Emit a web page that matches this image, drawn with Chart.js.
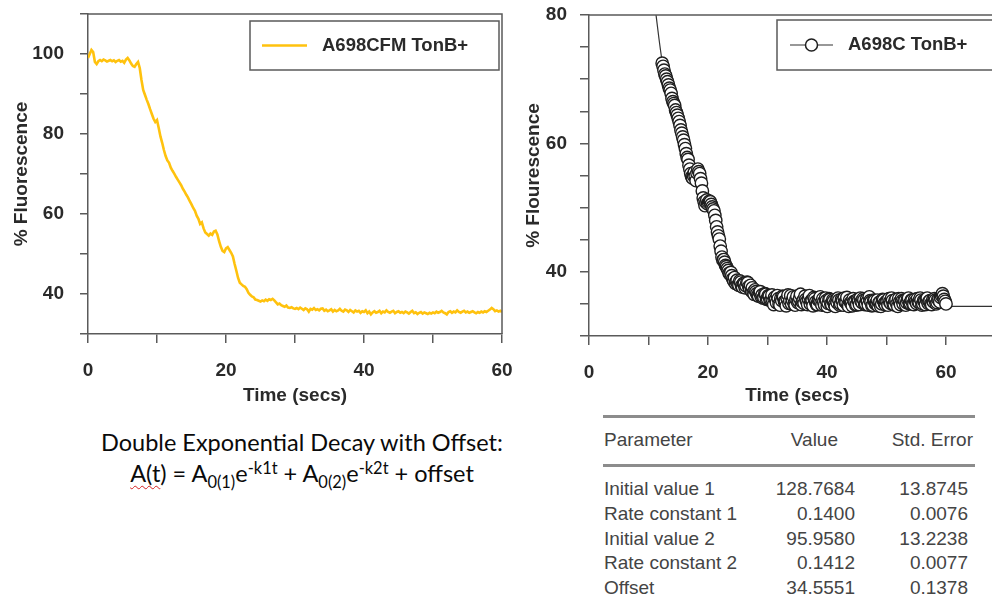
<!DOCTYPE html>
<html>
<head>
<meta charset="utf-8">
<script src="https://cdn.jsdelivr.net/npm/chart.js@4.4.0/dist/chart.umd.min.js"></script>
<style>
  html, body { margin: 0; padding: 0; background: #fff; }
  body { width: 992px; height: 607px; overflow: hidden; position: relative; font-family: 'Liberation Sans', Arial, sans-serif; }
  #left-wrap { position: absolute; left: 0; top: 0; }
  #right-wrap { position: absolute; left: 520px; top: 0; }
  .formula { position: absolute; left: 0; width: 604px; text-align: center; font-family: Lato, 'Open Sans', sans-serif; font-size: 23.5px; line-height: 28px; color: #0a0a0a; white-space: nowrap; }
  .formula .lo { font-size: 0.7em; position: relative; top: 0.35em; }
  .formula .hi { font-size: 0.7em; position: relative; top: -0.5em; }
  .squiggle { text-decoration: underline wavy #d42020; text-decoration-thickness: 1px; text-underline-offset: 3px; }
  .rule { position: absolute; left: 603px; width: 372px; height: 3px; background: #8c8c8c; }
  .cell { position: absolute; font-size: 19px; line-height: 22px; color: #444; white-space: nowrap; }
</style>
</head>
<body>
<div id="left-wrap"><canvas id="left-chart" width="530" height="420"></canvas></div>
<div id="right-wrap"><canvas id="right-chart" width="500" height="412"></canvas></div>

<div class="formula" style="top:428px;">Double Exponential Decay with Offset:</div>
<div class="formula" style="top:459px;"><span class="squiggle">A(t</span>) = A<span class="lo">0(1)</span>e<span class="hi">-k1t</span> + A<span class="lo">0(2)</span>e<span class="hi">-k2t</span> + offset</div>

<div id="fit-table"></div>

<script>
// Left panel: yellow trace, one reading every 0.25 s from t = 0
const traceStart = 0;
const traceStep = 0.25;
const yellowTrace = [
  99, 100, 101, 100.5, 98, 97.5, 98.2, 98.5, 98.2, 98.6, 98.4, 98.1, 98.3, 98.5, 98.2, 98.4, 98.0, 98.3, 98.5, 98.1,
  98.3, 97.8, 98.6, 99.0, 98.4, 97.6, 97.0, 96.8, 97.5, 98.0, 96.5, 93.5, 91.0, 89.8, 88.6, 87.5, 86.2, 85.0, 83.8, 83.0,
  83.5, 81.5, 79.4, 77.8, 76.0, 74.5, 73.4, 72.8, 71.6, 70.8, 70.1, 69.3, 68.6, 67.9, 67.2, 66.3, 65.6, 64.8, 64.1, 63.2,
  62.4, 61.5, 60.8, 59.6, 58.8, 57.5, 57.9, 56.4, 55.4, 55.0, 54.6, 55.1, 54.8, 55.6, 55.8, 54.9, 53.2, 51.8, 50.8, 50.5,
  51.4, 51.7, 51.0, 50.3, 49.4, 47.5, 45.8, 44.0, 42.8, 42.4, 42.0, 41.8, 41.2, 40.3, 39.8, 39.4, 39.2, 38.6, 38.5, 38.3,
  38.1, 38.4, 38.2, 38.6, 38.3, 38.7, 38.5, 38.8, 38.4, 37.9, 37.4, 37.6, 37.2, 37.0, 36.8, 37.1, 36.6, 36.5, 36.7, 36.4,
  36.3, 36.5, 36.2, 36.6, 36.3, 36.0, 36.4, 36.2, 35.6, 36.3, 36.1, 36.5, 36.0, 36.2, 35.9, 36.3, 36.4, 35.8, 36.1, 35.7,
  35.9, 36.2, 35.6, 36.0, 35.7, 35.9, 36.3, 35.8, 35.6, 36.1, 35.9, 35.5, 36.0, 35.7, 35.4, 35.9, 35.6, 35.8, 35.3, 35.7,
  35.5, 35.9, 35.2, 35.6, 34.9, 35.4, 35.7, 35.3, 35.5, 35.8, 35.2, 35.6, 35.4, 35.9, 35.5, 35.3, 35.6, 35.8, 35.2, 35.5,
  35.7, 35.3, 35.5, 35.2, 35.6, 35.4, 35.1, 35.5, 35.8, 35.2, 35.4, 35.0, 35.3, 35.5, 35.1, 35.4, 35.2, 35.0, 35.3, 35.1,
  35.4, 35.2, 35.6, 35.3, 35.5, 35.8, 35.4, 35.2, 34.9, 35.5, 35.7, 35.3, 35.6, 35.4, 35.9, 35.5, 35.3, 35.6, 35.8, 35.4,
  35.6, 35.3, 35.5, 35.7, 35.4, 35.2, 35.5, 35.3, 35.6, 35.4, 35.7, 35.5, 35.8, 36.1, 36.5, 36.2, 35.7, 35.9, 35.6, 35.8,
  35.5
];

// Right panel: open circles, one reading every 0.15 s from t = 12.3
const circleStart = 12.3;
const circleStep = 0.15;
const circleValues = [
  72.5, 72.0, 71.4, 70.8, 70.5, 70.0, 69.6, 69.1, 68.6, 68.3, 67.8, 67.0, 66.5, 66.2, 65.9, 65.2, 64.8, 64.4, 63.9, 63.4,
  62.8, 62.1, 61.6, 61.0, 60.5, 59.8, 59.2, 58.4, 57.8, 57.5, 56.6, 56.0, 55.3, 54.8, 54.6, 55.0, 55.5, 54.9, 54.2, 55.4,
  56.0, 55.6, 55.3, 54.5, 53.8, 52.6, 51.5, 50.9, 50.3, 50.8, 51.2, 50.6, 50.8, 51.0, 50.9, 50.5, 50.1, 49.8, 49.5, 48.8,
  48.0, 47.0, 46.2, 45.6, 45.1, 44.0, 43.2, 42.3, 41.8, 41.9, 41.5, 41.0, 40.8, 40.5, 40.2, 39.8, 39.6, 39.9, 39.4, 38.9,
  38.6, 39.1, 38.2, 38.5, 38.7, 38.0, 37.9, 38.6, 38.4, 37.8, 37.6, 38.2, 38.1, 37.5, 37.8, 38.4, 38.3, 37.7, 37.4, 37.9,
  37.0, 37.5, 36.8, 36.5, 37.2, 36.9, 36.6, 36.3, 36.2, 36.8, 36.9, 36.1, 36.4, 35.9, 36.0, 36.6, 36.5, 35.7, 35.8, 36.3,
  36.2, 35.5, 35.6, 36.4, 35.4, 34.9, 36.0, 35.7, 35.2, 36.3, 35.8, 35.0, 34.8, 35.9, 35.5, 36.2, 36.1, 35.4, 35.3, 34.7,
  35.9, 36.4, 35.1, 35.5, 36.3, 35.0, 35.6, 36.1, 35.0, 34.8, 35.7, 36.2, 35.2, 35.4, 35.9, 36.5, 34.9, 35.3, 35.6, 35.1,
  36.2, 35.7, 35.4, 34.9, 35.8, 36.3, 35.0, 35.5, 35.6, 34.7, 36.0, 35.8, 35.3, 34.9, 34.9, 35.6, 35.7, 36.1, 35.2, 34.8,
  35.8, 35.3, 34.8, 35.9, 35.5, 34.6, 35.1, 35.8, 35.7, 35.0, 34.9, 35.6, 35.4, 34.9, 34.6, 35.5, 35.2, 35.9, 35.6, 34.8,
  35.0, 35.7, 35.5, 34.8, 35.9, 35.3, 35.2, 36.0, 34.8, 34.6, 35.6, 35.2, 35.1, 34.7, 35.8, 35.4, 35.3, 34.8, 34.9, 35.7,
  35.5, 34.9, 35.9, 35.4, 35.2, 35.8, 35.6, 34.9, 35.0, 35.7, 35.4, 34.8, 36.1, 35.5, 35.3, 34.7, 34.8, 35.6, 35.5, 35.0,
  35.1, 35.6, 34.7, 35.2, 35.3, 34.6, 35.0, 35.7, 35.6, 35.1, 34.9, 35.4, 35.4, 34.8, 35.8, 35.3, 35.1, 35.9, 35.5, 34.9,
  34.9, 35.5, 35.7, 35.0, 34.6, 35.8, 35.3, 34.9, 35.8, 35.5, 35.0, 35.6, 35.5, 34.8, 35.2, 35.7, 35.9, 35.0, 35.1, 35.6,
  35.6, 35.0, 34.9, 35.7, 35.4, 35.1, 35.8, 35.3, 35.2, 35.9, 35.6, 34.8, 35.0, 35.5, 35.4, 34.9, 35.7, 35.9, 35.1, 35.4,
  35.5, 35.0, 34.9, 35.6, 35.3, 35.8, 35.6, 35.0, 35.2, 35.7, 35.8, 35.3, 36.0, 36.3, 36.6, 36.2, 35.7, 35.4, 35.0
];

// Fitted curve
const fitTimes = [11.1, 12.3, 13.5, 15, 16.5, 18, 19.5, 21, 22.5, 24, 26, 28, 30, 33, 36, 40, 45, 50, 55, 60, 65, 70];
const fitValues = [81.2, 72.8, 68.6, 63.4, 59.0, 55.4, 52.0, 48.6, 43.2, 40.0, 38.0, 36.9, 36.0, 35.5, 35.2, 34.9, 34.8, 34.7, 34.6, 34.6, 34.6, 34.6];

// Tick labels
const xTickLabels = [0, 20, 40, 60];
const leftYLabels = [40, 60, 80, 100];
const rightYLabels = [40, 60, 80];

// Fit parameter table
const paramNames = ['Initial value 1', 'Rate constant 1', 'Initial value 2', 'Rate constant 2', 'Offset'];
const paramValues = ['128.7684', '0.1400', '95.9580', '0.1412', '34.5551'];
const paramErrors = ['13.8745', '0.0076', '13.2238', '0.0077', '0.1378'];

const axisColor = '#5a5a5a';
const textColor = '#2a2a2a';
const tickFont = { family: "'Liberation Sans', Arial, sans-serif", size: 19, weight: 'bold' };

// Draw top and right edges of the plot box
const frame = {
  id: 'frame',
  afterDraw(chart) {
    const { left, right, top, bottom } = chart.chartArea;
    const ctx = chart.ctx;
    ctx.save();
    ctx.strokeStyle = axisColor;
    ctx.lineWidth = 1.5;
    ctx.beginPath();
    ctx.moveTo(left, top);
    ctx.lineTo(right, top);
    ctx.lineTo(right, bottom);
    ctx.stroke();
    ctx.restore();
  }
};

// Boxed legend inside the plot
const boxLegend = {
  id: 'boxLegend',
  afterDraw(chart, args, opts) {
    const ctx = chart.ctx;
    const area = chart.chartArea;
    const x = area.left + opts.offsetX;
    const y = area.top + opts.offsetY;
    const cy = y + opts.height / 2;
    const ds = chart.data.datasets[opts.datasetIndex];
    ctx.save();
    ctx.fillStyle = '#fff';
    ctx.fillRect(x, y, opts.width, opts.height);
    ctx.strokeStyle = axisColor;
    ctx.lineWidth = 1.5;
    ctx.strokeRect(x, y, opts.width, opts.height);
    ctx.strokeStyle = opts.lineColor;
    ctx.lineWidth = opts.lineWidth;
    ctx.beginPath();
    ctx.moveTo(x + opts.lineStart, cy);
    ctx.lineTo(x + opts.lineEnd, cy);
    ctx.stroke();
    if (opts.marker) {
      ctx.beginPath();
      ctx.arc(x + (opts.lineStart + opts.lineEnd) / 2, cy, 6, 0, Math.PI * 2);
      ctx.fillStyle = '#fff';
      ctx.fill();
      ctx.strokeStyle = '#1e1e1e';
      ctx.lineWidth = 1.5;
      ctx.stroke();
    }
    ctx.fillStyle = textColor;
    ctx.font = "bold 18.5px 'Liberation Sans', Arial, sans-serif";
    ctx.textBaseline = 'middle';
    ctx.fillText(ds.label, x + opts.textStart, cy);
    ctx.restore();
  }
};

// Build a linear axis; afterFit pins its size and drops label overhang
function makeAxis(opts) {
  return {
    type: 'linear',
    min: opts.min,
    max: opts.max,
    border: { color: axisColor, width: 1.5 },
    grid: { drawOnChartArea: false, tickLength: opts.tickLength, color: axisColor, lineWidth: 1.5 },
    ticks: {
      stepSize: opts.step,
      autoSkip: false,
      maxRotation: 0,
      padding: opts.padding,
      color: textColor,
      font: tickFont,
      callback: v => opts.labels.includes(v) ? v : ''
    },
    title: { display: true, text: opts.title, color: textColor, font: tickFont, padding: opts.titlePadding },
    afterFit: s => {
      if (opts.height) s.height = opts.height;
      if (opts.width) s.width = opts.width;
      s.paddingTop = 0;
      s.paddingBottom = 0;
      s.paddingLeft = 0;
      s.paddingRight = 0;
    }
  };
}

// Left chart
new Chart(document.getElementById('left-chart'), {
  type: 'scatter',
  data: {
    datasets: [{
      label: 'A698CFM TonB+',
      data: yellowTrace.map((v, i) => ({ x: traceStart + i * traceStep, y: v })),
      showLine: true,
      borderColor: '#ffc20e',
      borderWidth: 2.6,
      pointRadius: 0,
      tension: 0
    }]
  },
  options: {
    responsive: false,
    animation: false,
    layout: { padding: { top: 14, right: 28, left: 0, bottom: 0 } },
    plugins: {
      legend: { display: false },
      tooltip: { enabled: false },
      boxLegend: { datasetIndex: 0, offsetX: 162, offsetY: 7, width: 249, height: 49, lineStart: 12, lineEnd: 57, textStart: 72, lineColor: '#ffc20e', lineWidth: 2.6, marker: false }
    },
    scales: {
      x: makeAxis({ min: 0, max: 60, step: 10, labels: xTickLabels, tickLength: 9, padding: 16, title: 'Time (secs)', titlePadding: { top: 0, bottom: 13 }, height: 86 }),
      y: makeAxis({ min: 30, max: 110, step: 10, labels: leftYLabels, tickLength: 8, padding: 16, title: '% Fluorescence', titlePadding: { top: 10, bottom: 0 }, width: 88 })
    }
  },
  plugins: [frame, boxLegend]
});

// Right chart
new Chart(document.getElementById('right-chart'), {
  type: 'scatter',
  data: {
    datasets: [{
      label: 'Fit',
      data: fitTimes.map((t, i) => ({ x: t, y: fitValues[i] })),
      showLine: true,
      borderColor: '#333',
      borderWidth: 1.2,
      pointRadius: 0,
      cubicInterpolationMode: 'monotone',
      order: 2
    }, {
      label: 'A698C TonB+',
      data: circleValues.map((v, i) => ({ x: circleStart + i * circleStep, y: v })),
      showLine: false,
      pointRadius: 6.2,
      pointBorderWidth: 1.4,
      pointBorderColor: '#1e1e1e',
      pointBackgroundColor: '#fff',
      order: 1
    }]
  },
  options: {
    responsive: false,
    animation: false,
    layout: { padding: { top: 15, right: 14.5, left: 0, bottom: 0 } },
    plugins: {
      legend: { display: false },
      tooltip: { enabled: false },
      boxLegend: { datasetIndex: 1, offsetX: 188, offsetY: 5, width: 240, height: 50, lineStart: 13, lineEnd: 56, textStart: 71, lineColor: '#333', lineWidth: 1.2, marker: true }
    },
    scales: {
      x: makeAxis({ min: 0, max: 70, step: 10, labels: xTickLabels, tickLength: 9, padding: 16, title: 'Time (secs)', titlePadding: { top: 0, bottom: 4.5 }, height: 76 }),
      y: makeAxis({ min: 30, max: 80, step: 5, labels: rightYLabels, tickLength: 9, padding: 13, title: '% Flourescence', titlePadding: { top: 2.5, bottom: 0 }, width: 69 })
    }
  },
  plugins: [frame, boxLegend]
});

// Fit parameter table
function addCell(text, top, left, right) {
  const el = document.createElement('div');
  el.className = 'cell';
  el.textContent = text;
  el.style.top = (top - 11) + 'px';
  if (left !== null) el.style.left = left + 'px';
  if (right !== null) el.style.right = (992 - right) + 'px';
  document.getElementById('fit-table').appendChild(el);
  return el;
}

function buildTable() {
  const table = document.getElementById('fit-table');
  [415, 464].forEach(y => {
    const rule = document.createElement('div');
    rule.className = 'rule';
    rule.style.top = y + 'px';
    table.appendChild(rule);
  });
  addCell('Parameter', 440, 604, null);
  addCell('Value', 440, null, 838);
  addCell('Std. Error', 440, null, 973);
  paramNames.forEach((name, i) => {
    const y = 489 + i * 24.8;
    addCell(name, y, 604, null);
    addCell(paramValues[i], y, null, 855);
    addCell(paramErrors[i], y, null, 968);
  });
}

buildTable();
</script>
</body>
</html>
